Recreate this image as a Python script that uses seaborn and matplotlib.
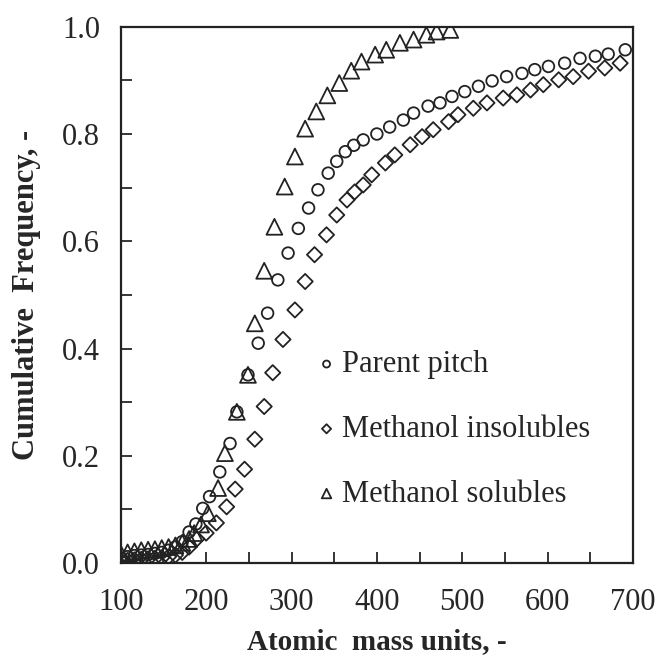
import matplotlib
matplotlib.use("Agg")
import matplotlib.pyplot as plt
from matplotlib.ticker import MultipleLocator
import seaborn as sns

# Parent pitch (circles)
parent_x = [100, 108, 116, 124, 132, 140, 148, 156, 164, 172, 180, 188, 196, 204,
            216, 228, 236, 249, 261, 272, 284, 296, 308, 320, 331, 343, 353, 363,
            373, 384, 400, 415, 431, 443, 460, 474, 488, 503, 519, 535, 552, 570,
            585, 601, 620, 638, 656, 671, 691]
parent_y = [0.010, 0.012, 0.014, 0.015, 0.016, 0.018, 0.020, 0.024, 0.030, 0.040,
            0.058, 0.073, 0.102, 0.124, 0.170, 0.223, 0.282, 0.351, 0.410, 0.466,
            0.528, 0.578, 0.624, 0.662, 0.696, 0.727, 0.749, 0.767, 0.779, 0.789,
            0.800, 0.813, 0.826, 0.839, 0.852, 0.858, 0.870, 0.879, 0.889, 0.899,
            0.907, 0.913, 0.920, 0.926, 0.932, 0.941, 0.945, 0.949, 0.957]

# Methanol insolubles (diamonds)
insol_x = [100, 108, 116, 124, 132, 140, 148, 156, 164, 172, 180, 189, 200, 212,
           224, 234, 245, 257, 268, 278, 290, 304, 316, 327, 341, 353, 365, 374,
           384, 394, 410, 421, 439, 453, 466, 484, 495, 513, 529, 548, 564, 580,
           595, 613, 630, 648, 667, 685]
insol_y = [0.004, 0.005, 0.006, 0.007, 0.008, 0.009, 0.010, 0.012, 0.015, 0.020,
           0.030, 0.045, 0.056, 0.075, 0.105, 0.138, 0.175, 0.231, 0.292, 0.355,
           0.417, 0.472, 0.525, 0.575, 0.612, 0.649, 0.677, 0.692, 0.705, 0.724,
           0.746, 0.761, 0.780, 0.795, 0.808, 0.823, 0.836, 0.848, 0.858, 0.867,
           0.873, 0.882, 0.892, 0.901, 0.907, 0.917, 0.923, 0.932]

# Methanol solubles (triangles)
sol_x = [100, 108, 116, 124, 132, 140, 148, 156, 164, 172, 180, 186, 194, 202,
         214, 222, 236, 249, 257, 268, 280, 292, 304, 316, 329, 342, 356, 370,
         382, 398, 411, 427, 443, 458, 470, 486]
sol_y = [0.018, 0.020, 0.022, 0.024, 0.025, 0.026, 0.028, 0.030, 0.033, 0.038,
         0.045, 0.056, 0.072, 0.093, 0.140, 0.205, 0.282, 0.351, 0.447, 0.545,
         0.627, 0.702, 0.758, 0.810, 0.842, 0.872, 0.895, 0.918, 0.935, 0.948,
         0.957, 0.970, 0.976, 0.985, 0.991, 0.994]

series = [
    ("Parent pitch", parent_x, parent_y, "o", 70),
    ("Methanol insolubles", insol_x, insol_y, "D", 60),
    ("Methanol solubles", sol_x, sol_y, "^", 130),
]


def main():
    sns.set_style("ticks")
    plt.rcParams["font.family"] = ["Liberation Serif", "DejaVu Serif"]

    fig = plt.figure(figsize=(6.6, 6.68), dpi=100)
    ax = fig.add_axes([0.183, 0.157, 0.776, 0.803])

    for name, xs, ys, mk, size in series:
        sns.scatterplot(x=xs, y=ys, marker=mk, s=size, facecolor="none",
                        edgecolor="#222222", linewidth=1.3, label=name, ax=ax)

    ax.set_xlim(100, 700)
    ax.set_ylim(0, 1.0)
    ax.xaxis.set_major_locator(MultipleLocator(100))
    ax.xaxis.set_minor_locator(MultipleLocator(50))
    ax.yaxis.set_major_locator(MultipleLocator(0.2))
    ax.yaxis.set_minor_locator(MultipleLocator(0.1))
    ax.yaxis.set_major_formatter(plt.FuncFormatter(lambda v, p: f"{v:.1f}"))
    ax.tick_params(which="both", direction="in", length=8, width=1.3,
                   labelsize=22, top=False, right=False)
    ax.tick_params(axis="x", pad=18)
    ax.tick_params(axis="y", pad=15)
    for sp in ax.spines.values():
        sp.set_linewidth(1.6)
        sp.set_color("#222222")

    ax.set_xlabel("Atomic  mass units, -", fontsize=21, fontweight="bold",
                  labelpad=8)
    ax.set_ylabel("Cumulative  Frequency, -", fontsize=22, fontweight="bold",
                  labelpad=15)

    ax.legend(loc="upper left", bbox_to_anchor=(0.36, 0.42), frameon=False,
              fontsize=22, markerscale=0.6, handlelength=0.6,
              handletextpad=0.2, labelspacing=1.17, borderaxespad=0)

    fig.savefig("out.png", dpi=100)


if __name__ == '__main__':
    main()
